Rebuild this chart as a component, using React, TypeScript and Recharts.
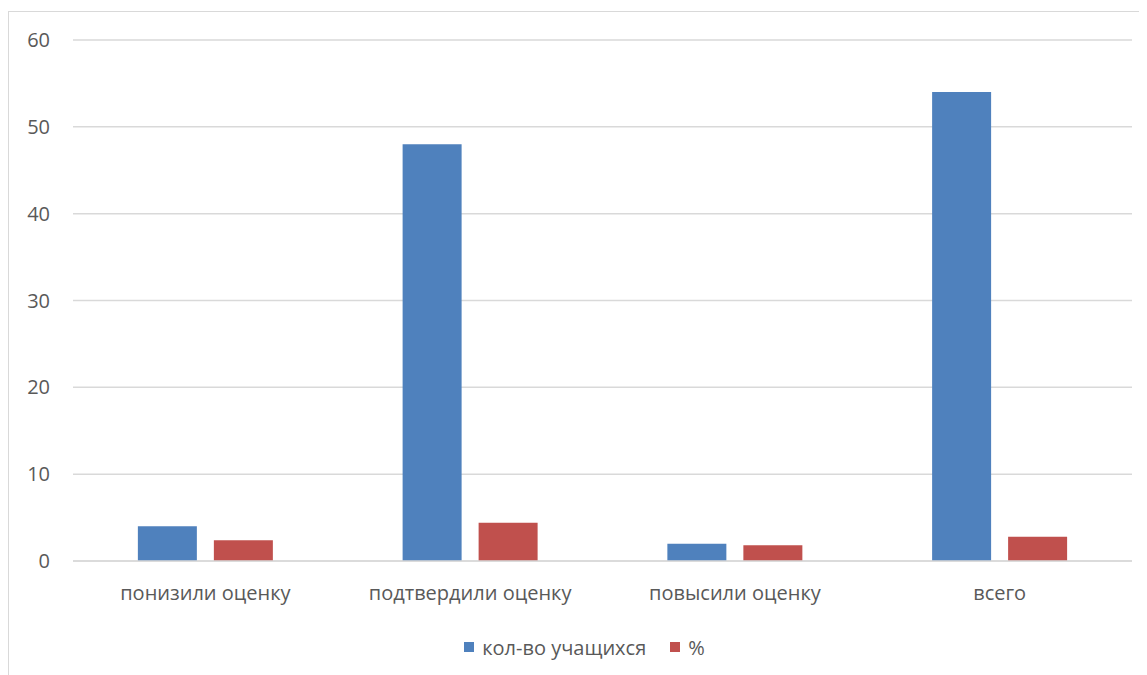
import { BarChart, Bar, XAxis, YAxis, CartesianGrid, Legend } from "recharts";

const categories = ["понизили оценку", "подтвердили оценку", "повысили оценку", "всего"];
const students = [4, 48, 2, 54];
const percent = [2.4, 4.4, 1.8, 2.8];
const yTicks = [0, 10, 20, 30, 40, 50, 60];
const seriesNames = ["кол-во учащихся", "%"];
const seriesColors = ["#4F81BD", "#C0504D"];

const data = categories.map((name, i) => ({
  name,
  students: students[i],
  percent: percent[i],
}));

const font = "'Open Sans', 'Noto Sans', sans-serif";
const textColor = "#595959";

function LegendContent() {
  return (
    <div
      style={{
        height: 26,
        display: "flex",
        justifyContent: "center",
        alignItems: "center",
        fontFamily: font,
        fontSize: 20,
        color: textColor,
        paddingLeft: 28,
      }}
    >
      {seriesNames.map((n, i) => (
        <span key={n} style={{ display: "flex", alignItems: "center", marginRight: i === 0 ? 24 : 0 }}>
          <span style={{ width: 10, height: 10, background: seriesColors[i], marginRight: 8 }} />
          {n}
        </span>
      ))}
    </div>
  );
}

export default function App() {
  return (
    <div
      style={{
        marginTop: 3,
        width: 1145,
        height: 670,
        border: "1px solid #d9d9d9",
        boxSizing: "border-box",
        background: "#fff",
        fontFamily: font,
      }}
    >
      <BarChart
        width={1143}
        height={668}
        data={data}
        margin={{ top: 28, right: 20, left: 0, bottom: 20 }}
        barCategoryGap="24.5%"
        barGap={17}
      >
        <CartesianGrid vertical={false} stroke="#d9d9d9" strokeWidth={1.5} />
        <XAxis
          dataKey="name"
          tickLine={false}
          axisLine={{ stroke: "#d9d9d9", strokeWidth: 1.5 }}
          tick={{ fill: textColor, fontSize: 20, fontFamily: font }}
          tickMargin={19}
          height={73}
          interval={0}
        />
        <YAxis
          domain={[0, 60]}
          ticks={yTicks}
          width={64}
          tickLine={false}
          axisLine={false}
          tick={{ fill: textColor, fontSize: 20, fontFamily: font }}
          tickMargin={17}
        />
        <Legend verticalAlign="bottom" height={26} content={<LegendContent />} />
        <Bar dataKey="students" name={seriesNames[0]} fill={seriesColors[0]} isAnimationActive={false} />
        <Bar dataKey="percent" name={seriesNames[1]} fill={seriesColors[1]} isAnimationActive={false} />
      </BarChart>
    </div>
  );
}
